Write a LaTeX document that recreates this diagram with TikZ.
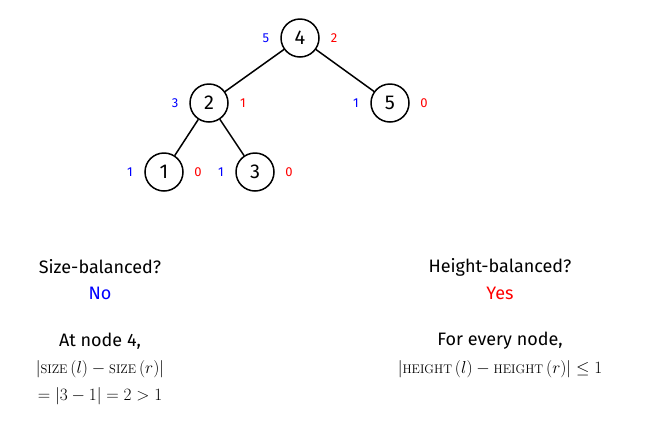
\documentclass[tikz,border=0pt]{standalone}
\usepackage{amsmath}
\usepackage{fontspec}
\setmainfont{Fira Sans}
\newfontfamily\lmr{Latin Modern Roman}
\newcommand{\scn}[1]{\text{\lmr\fontsize{12.5}{14}\selectfont #1}}
\begin{document}
\begin{tikzpicture}[x=1pt,y=-1pt,
  tn/.style={circle,draw,line width=1.5pt,minimum size=38pt,inner sep=0pt,font=\fontsize{20}{22}\selectfont},
  bl/.style={text=blue,font=\fontsize{13}{15}\selectfont},
  rd/.style={text=red,font=\fontsize{13}{15}\selectfont},
  tx/.style={font=\fontsize{18}{20}\selectfont},
  mt/.style={font=\fontsize{17}{19}\selectfont}]
\useasboundingbox (0,0) rectangle (655,424);
\node[tn] (n4) at (300,38) {4};
\node[tn] (n2) at (209,103) {2};
\node[tn] (n5) at (390,103) {5};
\node[tn] (n1) at (164,172) {1};
\node[tn] (n3) at (255,172) {3};
\draw[line width=1.5pt] (n4)--(n2) (n4)--(n5) (n2)--(n1) (n2)--(n3);
\foreach \n/\l/\r in {n4/5/2,n2/3/1,n5/1/0,n1/1/0,n3/1/0}{
  \node[bl] (\n l) at ([xshift=-34pt]\n.center) {\l};
  \node[rd] (\n r) at ([xshift=34pt]\n.center) {\r};}
\node[tx] (sb) at (100,267) {Size-balanced?};
\node[tx,text=blue] (no) at (100,293) {No};
\node[tx] (at) at (100,341) {At node 4,};
\node[mt] (m1) at (100,369) {$\left|\scn{SIZE}\left(l\right)-\scn{SIZE}\left(r\right)\right|$};
\node[mt] (m2) at (100,396) {$=\left|3-1\right|=2>1$};
\node[tx] (hb) at (500,267) {Height-balanced?};
\node[tx,text=red] (yes) at (500,293) {Yes};
\node[tx] (fe) at (500,341) {For every node,};
\node[mt] (m3) at (500,369) {$\left|\scn{HEIGHT}\left(l\right)-\scn{HEIGHT}\left(r\right)\right|\le 1$};
\end{tikzpicture}
\end{document}
